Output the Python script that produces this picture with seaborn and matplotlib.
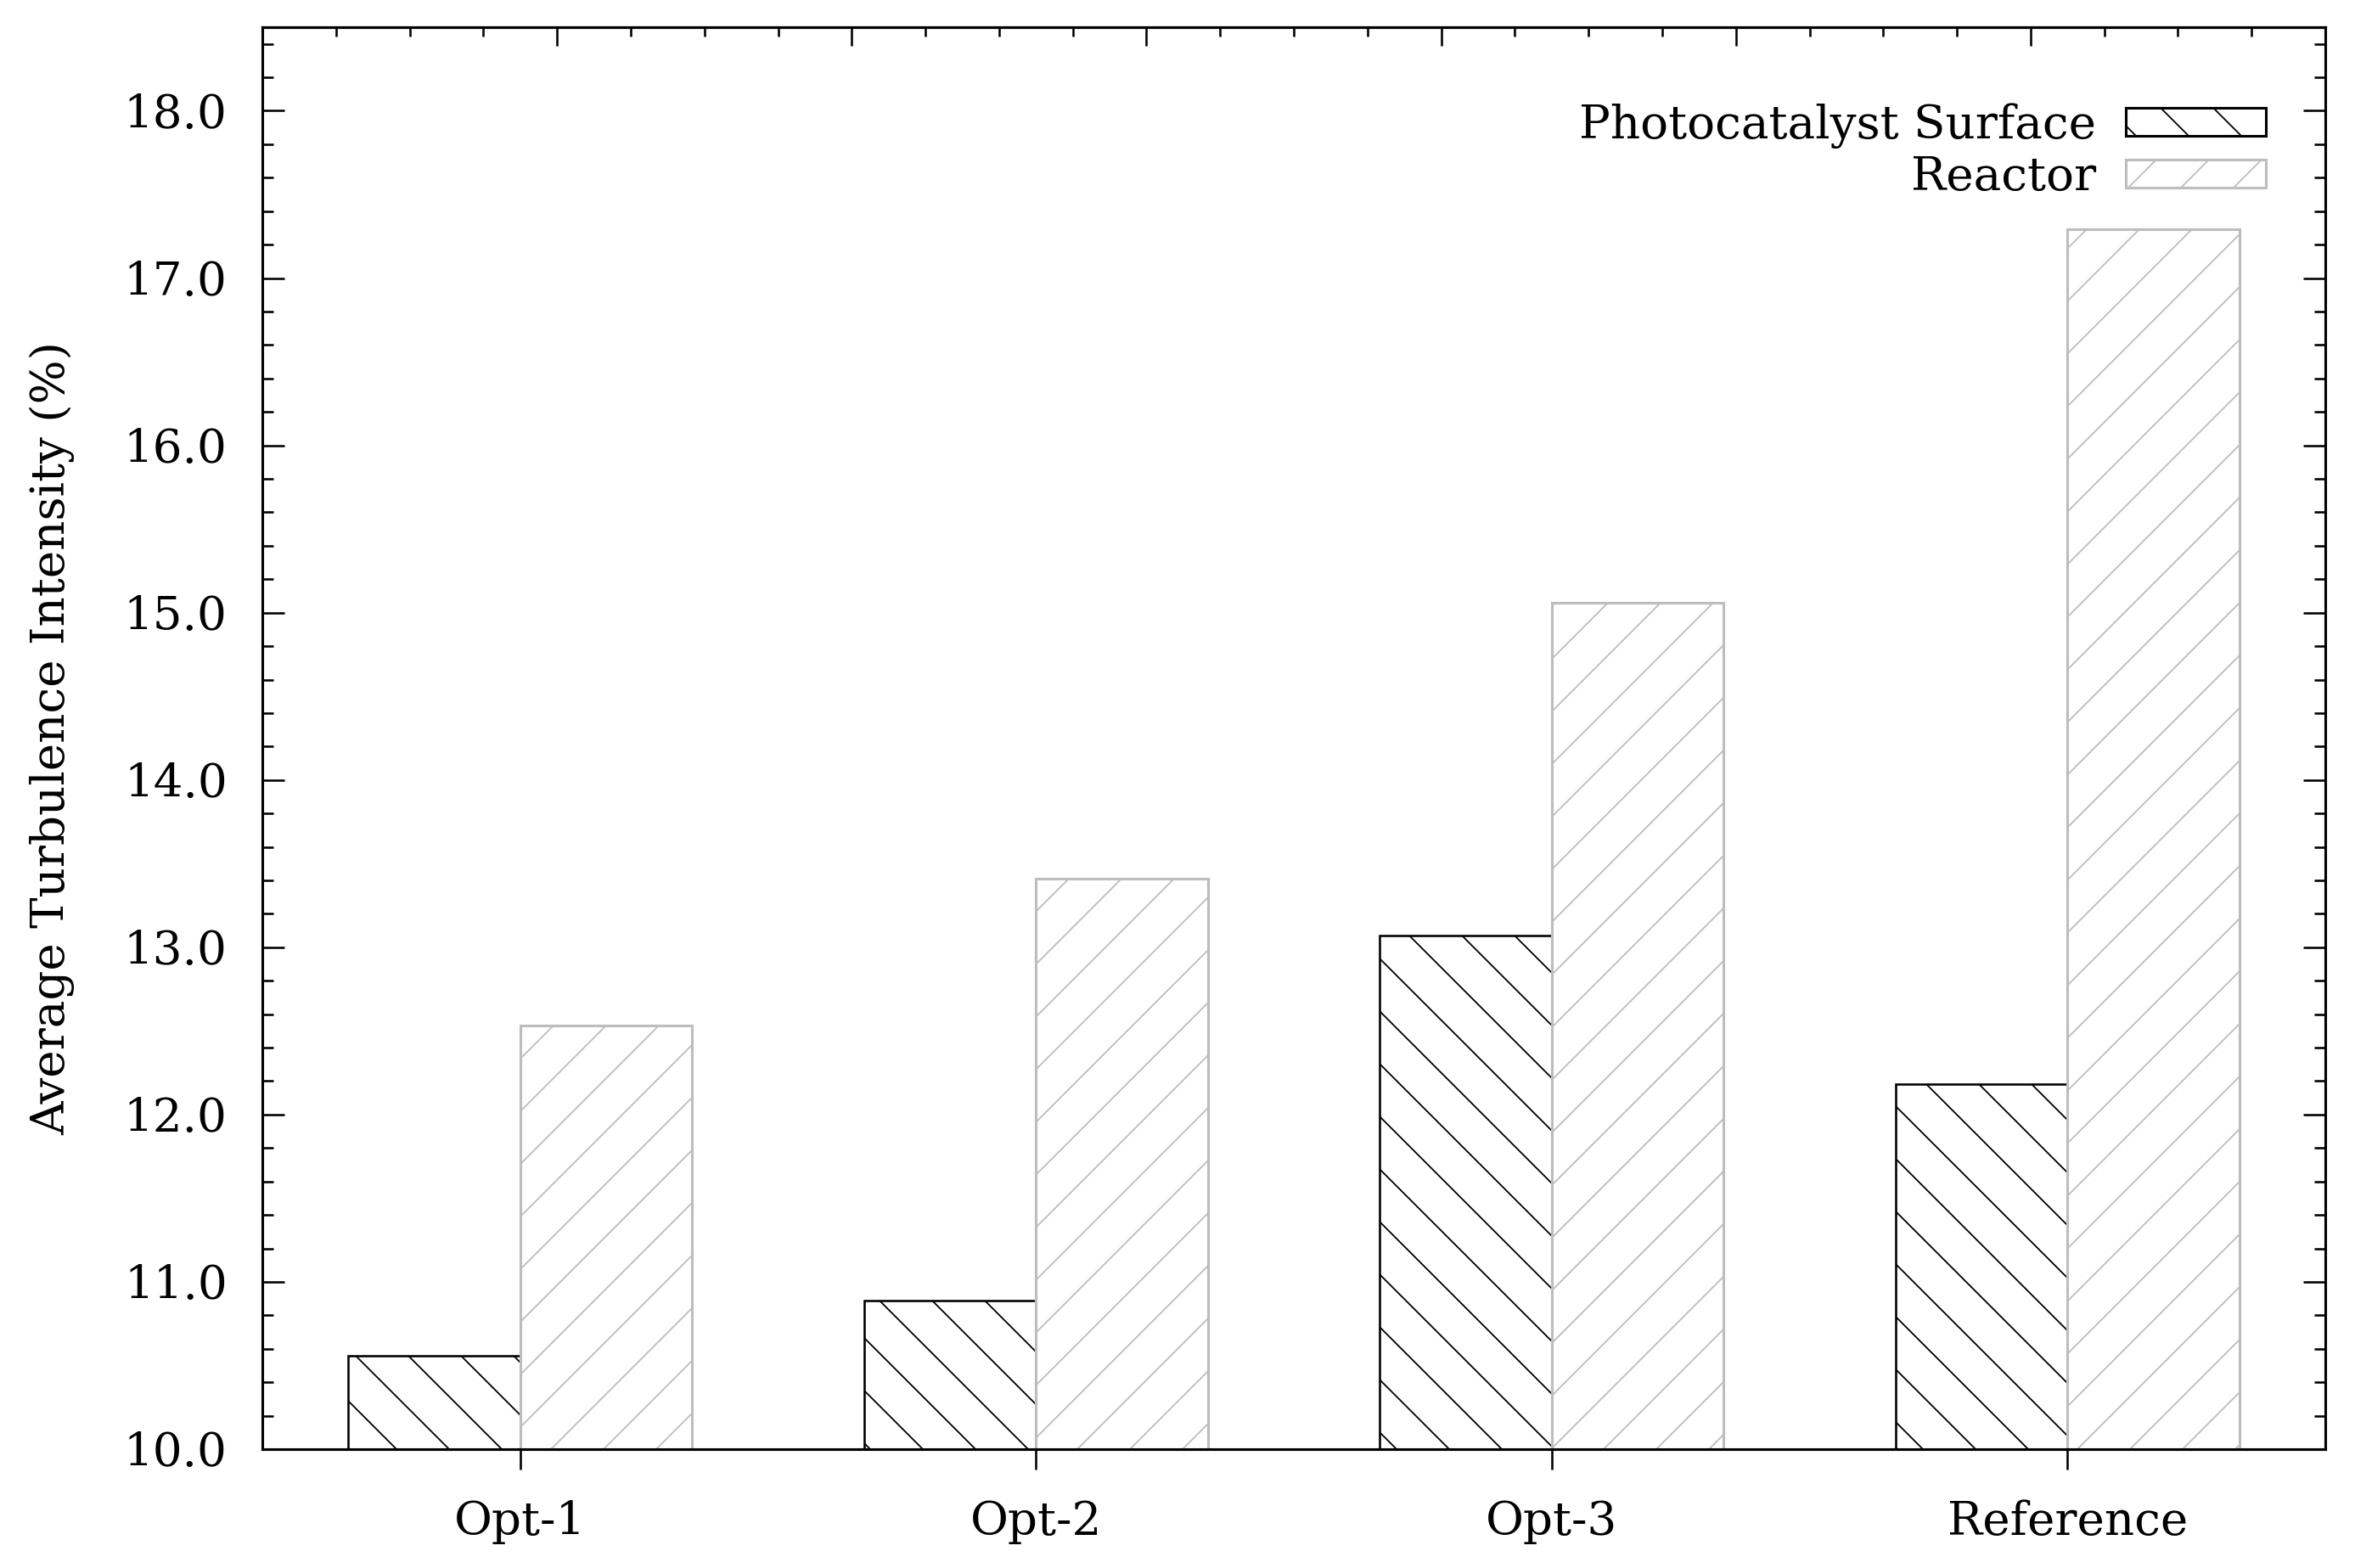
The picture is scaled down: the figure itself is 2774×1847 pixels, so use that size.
import matplotlib
matplotlib.use("Agg")
import matplotlib.patches as mpatches
import numpy as np
import pandas as pd
import seaborn as sns
from matplotlib import pyplot as plt
from matplotlib.ticker import AutoMinorLocator, FormatStrFormatter, MultipleLocator

# Data
options = ["Opt-1", "Opt-2", "Opt-3", "Reference"]
locations = ["Photocatalyst Surface", "Reactor"]
surface_values = [10.56, 10.89, 13.07, 12.18]
reactor_values = [12.53, 13.41, 15.06, 17.29]

df = pd.DataFrame({
    "option": options * 2,
    "location": [locations[0]] * len(options) + [locations[1]] * len(options),
    "value": surface_values + reactor_values,
})

sns.set_style("ticks")
plt.rcParams["font.family"] = ["DejaVu Serif"]
plt.rcParams["hatch.linewidth"] = 0.35
for key in ["text.color", "axes.labelcolor", "xtick.color", "ytick.color", "axes.edgecolor"]:
    plt.rcParams[key] = "black"

DPI = 372
fig, ax = plt.subplots(figsize=(2774 / DPI, 1847 / DPI), dpi=DPI)
fig.subplots_adjust(left=0.1114, right=0.9874, top=0.9827, bottom=0.0758)

sns.barplot(data=df, x="option", y="value", hue="location",
            palette=["white", "white"], width=0.667, legend=False, ax=ax)

# hatch and edge styles per series
styles = [("black", "\\\\", 0.5), ("#bdbdbd", "//", 0.6)]
for cont, (ec, hatch, lw) in zip(ax.containers, styles):
    for bar in cont:
        bar.set_facecolor("white")
        bar.set_edgecolor(ec)
        bar.set_hatch(hatch)
        bar.set_linewidth(lw)

ax.set_xlim(-0.5, 3.5)
ax.set_ylim(10.0, 18.5)
ax.yaxis.set_major_locator(MultipleLocator(1.0))
ax.yaxis.set_minor_locator(AutoMinorLocator(5))
ax.yaxis.set_major_formatter(FormatStrFormatter("%.1f"))

ax.set_xlabel("")
ax.set_ylabel("Average Turbulence Intensity (%)", fontsize=10.6)
ax.yaxis.set_label_coords(-0.0909, 0.5)

for sp in ax.spines.values():
    sp.set_visible(True)
    sp.set_color("black")
    sp.set_linewidth(0.6)

ax.tick_params(axis="y", which="major", direction="in", length=5, width=0.5,
               left=True, right=True, labelsize=10.6, pad=8)
ax.tick_params(axis="y", which="minor", direction="in", length=2.5, width=0.5,
               left=True, right=True)
ax.tick_params(axis="x", which="major", direction="out", length=4.6, width=0.5,
               top=False, labelsize=10.6, pad=7)

# gnuplot style mirrored top axis with its own tick spacing
top = ax.secondary_xaxis("top", functions=(lambda x: (x + 0.5) * 7 / 4,
                                            lambda t: t * 4 / 7 - 0.5))
top.set_xticks(np.arange(1, 7))
top.xaxis.set_minor_locator(MultipleLocator(0.25))
top.tick_params(which="major", direction="in", length=4.3, width=0.5, labeltop=False)
top.tick_params(which="minor", direction="in", length=2.1, width=0.5)
top.spines["top"].set_linewidth(0.6)

handles = [
    mpatches.Patch(facecolor="white", edgecolor="black", hatch="\\\\", linewidth=0.6,
                   label=locations[0]),
    mpatches.Patch(facecolor="white", edgecolor="#bdbdbd", hatch="//", linewidth=0.6,
                   label=locations[1]),
]
ax.legend(handles=handles, loc="upper right", bbox_to_anchor=(0.971, 0.9467),
          frameon=False, markerfirst=False, fontsize=10.6, handlelength=3.0,
          handleheight=0.55, handletextpad=0.64, labelspacing=0.15,
          borderpad=0, borderaxespad=0)

plt.savefig("out.png", dpi=DPI)
